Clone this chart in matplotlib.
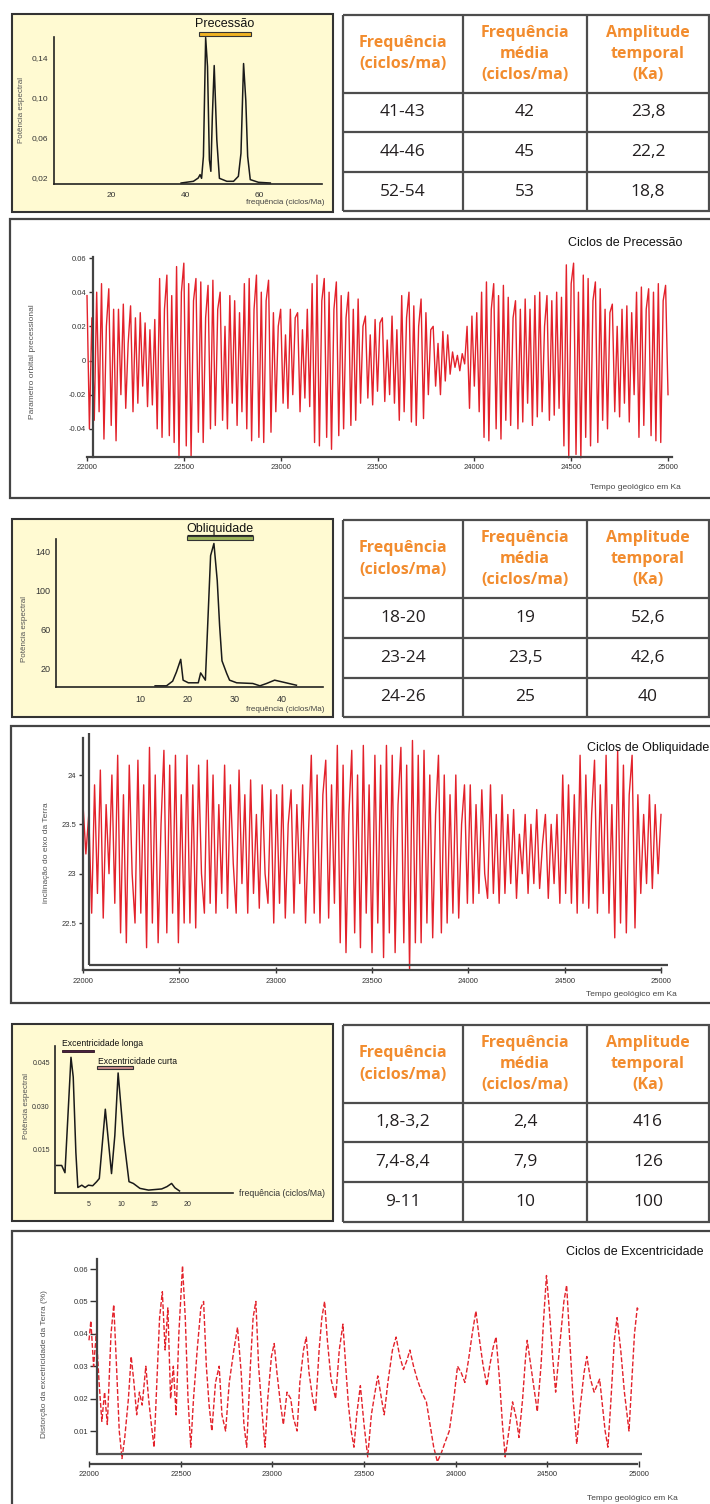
import matplotlib
matplotlib.use('Agg')
import matplotlib.pyplot as plt
from matplotlib.lines import Line2D
from matplotlib.patches import Rectangle
import numpy as np

# ---- tables ----
tab_head = ['Frequência\n(ciclos/ma)', 'Frequência\nmédia\n(ciclos/ma)', 'Amplitude\ntemporal\n(Ka)']
tab_prec = [['41-43', '42', '23,8'], ['44-46', '45', '22,2'], ['52-54', '53', '18,8']]
tab_obl = [['18-20', '19', '52,6'], ['23-24', '23,5', '42,6'], ['24-26', '25', '40']]
tab_exc = [['1,8-3,2', '2,4', '416'], ['7,4-8,4', '7,9', '126'], ['9-11', '10', '100']]

# ---- spectra ----
prec_f = [38.9, 42.2, 43.5, 44.0, 44.4, 44.9, 45.5, 46.0, 46.5, 46.9, 47.3, 47.8,
          48.5, 49.2, 51.2, 53.0, 54.3, 55.0, 55.7, 56.3, 56.8, 57.5, 59.7, 62.9]
prec_p = [0.0143, 0.016, 0.0193, 0.0227, 0.019, 0.041, 0.160, 0.131, 0.0376, 0.026, 0.081, 0.132,
          0.0576, 0.019, 0.016, 0.016, 0.021, 0.044, 0.134, 0.097, 0.041, 0.0177, 0.015, 0.0143]

obl_f = [13.2, 15.6, 16.9, 17.7, 18.6, 19.1, 20.2, 22.3, 22.8, 23.8, 24.9, 25.6,
         26.3, 26.8, 27.3, 28.3, 28.9, 30.4, 33.8, 35.3, 36.7, 38.4, 43.0]
obl_p = [2.4, 2.4, 7.2, 16.6, 29.5, 8.2, 5.5, 5.5, 15.6, 8.2, 135.6, 148,
         110, 64, 28, 15, 8.2, 5.5, 4.8, 2.4, 4.8, 8.2, 3]

exc_f = [0.2, 0.95, 1.45, 2.36, 2.7, 3.1, 3.4, 4.0, 4.5, 5.0, 5.65, 6.25, 6.65, 7.56,
         8.5, 9.0, 9.5, 10.3, 11.15, 11.8, 12.8, 14.1, 16.1, 16.9, 17.6, 18.1, 18.8]
exc_p = [0.0095, 0.0095, 0.007, 0.0468, 0.040, 0.014, 0.0019, 0.0027, 0.0019, 0.0027,
         0.0025, 0.0039, 0.005, 0.0289, 0.0067, 0.0198, 0.0414, 0.0198, 0.0039, 0.0033,
         0.0016, 0.001, 0.0014, 0.0022, 0.0033, 0.0018, 0.0007]

# ---- time series (ka) ----
# precession parameter, in units of 0.001, every 12.5 ka from 22000 to 25000
prec_series = [
    38, -40, 25, -35, 40,
    -30, 45, -46, 20, 42, -38, 30, -47,
    30, -20, 33, -28, 10, 32, -30, 25,
    -25, 28, -15, 22, -27, 18, -26, 24,
    -40, 48, -45, 30, 50, -44, 38, -48,
    55, -57, 40, 57, -50, 45, -56, 35,
    48, -42, 46, -48, 25, 44, -40, 47,
    -38, 30, 40, -35, 20, -40, 38, -25, 35, -38, 28, -30,
    45, -40, 48, -47, 30, 50, -45, 40, -48, 35, 47, -42,
    28, -30, 20, 30, -25, 15, -28, 30, -20, 25, 28, -30, 18, -22, 30, -27,
    45, -48, 50, -50, 35, 48, -45, 40, -52, 30, 46, -44,
    38, -40, 25, 40, -38, 30, -35, 36,
    -25, 20, 26, -22, 15, -26, 24, -18, 22, 25, -24, 12, -20, 26, -25, 18,
    -35, 38, -30, 25, 40, -36, 32, -38, 20, 36, -34, 28,
    -20, 18, 20, -15, 10, -20, 17, -12, 15, -8,
    5, -4, 3, -6, 4, -2,
    20, -28, 26, -15, 28, -30,
    40, -45, 46, -47, 30, 45, -40, 38, -46, 44,
    -35, 37, -38, 25, 35, -40, 30, -36, 36, -25, 30, -38,
    38, -33, 40, -30, 20, 38, -35, 35, -32, 40, -28, 37,
    -50, 56, -57, 45, 57, -55, 40, -57,
    50, -45, 48, -50, 35, 46, -48, 42,
    -35, 30, -40, 28, 33, -30, 20, -33, 30, -25, 32, -36, 28, -20,
    40, -45, 43, -38, 30, 42, -44, 40,
    -47, 45, -48, 35, 44, -20,
]

# obliquity (degrees), every 15 ka from 22000 to 25000
obl_series = [
    23.7, 23.2, 23.6,
    22.6, 23.9, 22.8, 24.05, 22.55, 23.7, 23.0, 24.0, 22.7,
    24.2, 22.4, 23.8, 22.3, 24.1, 23.0, 22.5, 24.15, 22.6, 23.9,
    22.25, 24.28, 22.5, 24.0, 22.3, 23.5, 24.25, 22.4, 24.1, 22.6, 24.2, 22.3, 23.8, 22.5,
    24.2, 22.5, 23.9, 22.45, 24.1, 23.0, 22.6, 24.15, 22.7,
    24.0, 22.6, 23.7, 22.8, 24.1, 22.65, 23.9, 23.1, 22.6, 24.05, 22.9, 23.8,
    22.6, 23.95, 22.8, 23.6, 22.65, 23.9, 23.0, 22.7, 23.85,
    22.5, 23.8, 22.7, 23.9, 22.55, 23.5, 23.85, 22.6, 23.7, 22.9, 23.9, 22.5, 23.4,
    24.2, 22.6, 24.0, 22.5, 23.8, 24.15, 22.55, 23.9, 22.7,
    24.3, 22.3, 24.1, 22.2, 23.6, 24.25, 22.4, 24.0, 22.25, 24.3, 22.6, 23.9, 22.2, 24.2, 22.5, 24.1,
    22.15, 24.3, 22.4, 24.2, 22.2, 23.7, 24.28, 22.3, 24.1,
    22.02, 24.35, 22.3, 24.2,
    22.3, 24.25, 22.5, 24.0, 22.35, 23.6, 24.2, 22.4,
    24.0, 22.5, 23.8, 22.6, 24.0, 22.55, 23.5, 23.9, 22.7,
    23.9, 22.7, 23.7, 22.8, 23.85, 23.0, 22.75, 23.9, 22.8, 23.6, 22.7, 23.8,
    22.8, 23.6, 22.9, 23.65, 22.75, 23.4, 23.0, 23.6, 22.8, 23.5, 22.9, 23.65, 22.85, 23.3, 23.6,
    22.75, 23.5, 22.9, 23.6,
    22.7, 24.0, 22.8, 23.9, 22.7, 23.8,
    22.6, 24.2, 22.7, 24.0, 22.65, 23.6, 24.15, 22.6, 23.9, 22.8, 24.2, 22.6, 23.7,
    22.35, 24.25, 22.5, 24.1, 22.4, 23.8, 24.2, 22.45,
    23.8, 22.8, 23.6, 22.9, 23.8, 22.85, 23.7, 23.0, 23.6,
]

# eccentricity: time (ka) and value (units of 0.001)
exc_t = [22000, 22010, 22025, 22040, 22055, 22070, 22085, 22100, 22120, 22135, 22150, 22165,
         22180, 22195, 22215, 22230, 22245, 22260, 22275, 22290, 22310, 22325, 22340, 22355,
         22370, 22385, 22400, 22415, 22430, 22445, 22460, 22475, 22490, 22510, 22525, 22540,
         22555, 22570, 22590, 22610, 22625, 22640, 22655, 22670, 22690, 22710, 22725, 22745,
         22765, 22790, 22810, 22830, 22845, 22860, 22880, 22895, 22910, 22925, 22945, 22960,
         22975, 22995, 23010, 23025, 23045, 23060, 23080, 23100, 23115, 23135, 23150, 23170,
         23185, 23200, 23220, 23235, 23255, 23270, 23285, 23300, 23320, 23345, 23365, 23385,
         23400, 23415, 23430, 23445, 23460, 23480, 23500, 23520, 23540, 23560, 23575, 23595,
         23610, 23630, 23655, 23675, 23695, 23715, 23735, 23750, 23770, 23790, 23815, 23840,
         23860, 23880, 23900, 23920, 23945, 23965, 23990, 24010, 24030, 24050, 24070, 24090,
         24110, 24130, 24150, 24170, 24185, 24205, 24220, 24240, 24255, 24270, 24290, 24310,
         24330, 24345, 24365, 24380, 24390, 24410, 24430, 24445, 24465, 24480, 24495, 24510,
         24530, 24545, 24565, 24590, 24605, 24620, 24640, 24660, 24680, 24700, 24715, 24735,
         24755, 24770, 24785, 24800, 24815, 24830, 24845, 24865, 24880, 24900, 24920, 24945,
         24960, 24975, 24990, 25000]
exc_v = [38, 44, 30, 40, 25, 13, 22, 12, 40, 49, 30, 10,
         1.5, 8, 20, 33, 25, 15, 22, 18, 30, 20, 12, 5,
         25, 45, 53, 35, 48, 20, 30, 15, 40, 61, 45, 20,
         5, 20, 35, 48, 50, 30, 18, 10, 25, 30, 15, 10,
         25, 35, 42, 28, 12, 5, 30, 45, 50, 30, 15, 5,
         20, 33, 37, 28, 18, 12, 22, 20, 14, 10, 25, 35,
         39, 28, 20, 16, 35, 45, 50, 38, 26, 20, 35, 43,
         30, 18, 10, 5, 15, 24, 12, 2, 15, 22, 27, 20,
         15, 25, 35, 39, 33, 29, 32, 35, 30, 26, 22, 19,
         12, 5, 0.5, 3, 7, 10, 20, 30, 28, 25, 32, 40,
         47, 38, 30, 24, 30, 36, 39, 25, 12, 2, 10, 19,
         14, 8, 20, 32, 38, 30, 22, 16, 30, 45, 58, 48,
         32, 22, 35, 50, 55, 40, 20, 6, 18, 28, 33, 26,
         22, 24, 26, 18, 10, 5, 18, 38, 45, 35, 22, 10,
         25, 40, 48, 47]

time_ticks = [22000, 22500, 23000, 23500, 24000, 24500, 25000]
time_labels = ['22000', '22500', '23000', '23500', '24000', '24500', '25000']

# ---------------------------------------------------------------
W, H = 710, 1504
fig = plt.figure(figsize=(W / 100, H / 100), dpi=100)
fig.patch.set_facecolor('white')
plt.rcParams['font.family'] = ['Liberation Sans', 'DejaVu Sans']

RED = '#e3222b'


def fx(x):
    return x / W


def fy(y):
    return 1 - y / H


def line(xs, ys, color='#444444', lw=1.5):
    fig.add_artist(Line2D([fx(x) for x in xs], [fy(y) for y in ys], color=color, lw=lw,
                          transform=fig.transFigure, solid_capstyle='butt'))


def box(x0, y0, x1, y1, face, edge='#333333', lw=1.5, z=-5):
    fig.add_artist(Rectangle((fx(x0), fy(y1)), (x1 - x0) / W, (y1 - y0) / H, facecolor=face,
                             edgecolor=edge, lw=lw, transform=fig.transFigure, zorder=z))


def text(x, y, s, **kw):
    kw.setdefault('va', 'center')
    fig.text(fx(x), fy(y), s, **kw)


def axes_px(l, t, r, b):
    ax = fig.add_axes([fx(l), fy(b), (r - l) / W, (b - t) / H])
    ax.set_facecolor('none')
    for s in ['top', 'right']:
        ax.spines[s].set_visible(False)
    return ax


def table(top, head_bot, rows_y, bottom, data):
    x_cols = [343, 463, 587, 709]
    centers = [403, 525, 648]
    for y in [top, head_bot] + rows_y + [bottom]:
        line([x_cols[0], 710], [y, y], color='#4d4d4d', lw=1.6)
    for x in x_cols:
        line([x, x], [top, bottom], color='#4d4d4d', lw=1.6)
    hc = (top + head_bot) / 2
    for cx, h in zip(centers, tab_head):
        text(cx, hc, h, ha='center', fontsize=11.5, fontweight='bold', color='#f28c2e',
             family=['Open Sans', 'DejaVu Sans'], linespacing=1.42)
    bounds = [head_bot] + rows_y + [bottom]
    for i, row in enumerate(data):
        yc = (bounds[i] + bounds[i + 1]) / 2
        for cx, v in zip(centers, row):
            text(cx, yc, v, ha='center', fontsize=12.5, color='#231f20',
                 family=['Open Sans', 'DejaVu Sans'])


def spectrum(l, t, r, b, xs, ys, xlim, ylim, xt, yt, ylabels, fs):
    ax = axes_px(l, t, r, b)
    ax.plot(xs, ys, color='#1a1a1a', lw=1.1, clip_on=False)
    ax.set_xlim(*xlim)
    ax.set_ylim(*ylim)
    ax.set_xticks(xt)
    ax.set_xticklabels([str(v) for v in xt])
    ax.set_yticks(yt)
    ax.set_yticklabels(ylabels)
    ax.tick_params(length=0, labelsize=fs, colors='#333333', pad=4)
    ax.tick_params(axis='x', pad=6)
    for s in ['left', 'bottom']:
        ax.spines[s].set_color('#222222')
        ax.spines[s].set_linewidth(1.2)
    return ax


# ================= Precession =================
box(12, 14, 333, 212, '#fffad2')
spectrum(54, 37, 322, 184, prec_f, prec_p, (4.7, 76.8), (0.0133, 0.1606),
         [20, 40, 60], [0.02, 0.06, 0.10, 0.14], ['0,02', '0,06', '0,10', '0,14'], 6)
text(22, 110, 'Potência espectral', rotation=90, ha='center', fontsize=5.8, color='#555555')
text(325, 203, 'frequência (ciclos/Ma)', ha='right', fontsize=5.8, color='#444444')
text(225, 24, 'Precessão', ha='center', fontsize=9, color='#111111')
box(199, 32, 251, 35.5, '#f0b323', edge='#333333', lw=0.8, z=3)
table(15, 92.7, [132.3, 172.3], 211, tab_prec)

box(10, 219, 760, 498, 'white', edge='#444444', lw=1.6)
ax = axes_px(87, 257, 672, 457)
t_prec = np.linspace(22000, 25000, len(prec_series))
ax.plot(t_prec, np.array(prec_series) * 0.001, color=RED, lw=1.0, clip_on=False)
ax.set_xlim(22000, 25020.6)
ax.set_ylim(-0.0565, 0.0606)
ax.spines['left'].set_position(('data', 22031))
ax.set_yticks([0.06, 0.04, 0.02, 0, -0.02, -0.04])
ax.set_yticklabels(['0.06', '0.04', '0.02', '0', '-0.02', '-0.04'])
ax.set_xticks(time_ticks)
ax.set_xticklabels(time_labels)
ax.tick_params(length=3, width=1, labelsize=5.5, colors='#333333', pad=2)
for s in ['left', 'bottom']:
    ax.spines[s].set_color('#444444')
    ax.spines[s].set_linewidth(1.6)
text(32, 362, 'Parametro orbital precessional', rotation=90, ha='center', fontsize=6, color='#555555')
text(682, 243, 'Ciclos de Precessão', ha='right', fontsize=9, color='#111111')
text(681, 487, 'Tempo geológico em Ka', ha='right', fontsize=6, color='#444444')

# ================= Obliquity =================
box(12, 519, 333, 717, '#fffad2')
spectrum(56, 539, 323, 687, obl_f, obl_p, (-7.7, 48.6), (1.2, 152.6),
         [10, 20, 30, 40], [20, 60, 100, 140], ['20', '60', '100', '140'], 6.5)
text(25, 629, 'Potência espectral', rotation=90, ha='center', fontsize=5.8, color='#555555')
text(325, 710, 'frequência (ciclos/Ma)', ha='right', fontsize=5.8, color='#444444')
text(220, 529, 'Obliquidade', ha='center', fontsize=9, color='#111111')
line([187, 253], [535, 535], color='#222222', lw=0.8)
box(187, 536, 253, 540, '#9cb55a', edge='#333333', lw=0.8, z=3)
table(520, 598, [637.7, 677.7], 717, tab_obl)

box(11, 726, 760, 1003, 'white', edge='#444444', lw=1.6)
ax = axes_px(83, 738, 661, 970)
t_obl = np.linspace(22000, 25000, len(obl_series))
ax.plot(t_obl, obl_series, color=RED, lw=1.0, clip_on=False)
ax.set_xlim(22000, 25000)
ax.set_ylim(22.024, 24.375)
ax.set_yticks([24, 23.5, 23, 22.5])
ax.set_yticklabels(['24', '23.5', '23', '22.5'])
ax.set_xticks(time_ticks)
ax.set_xticklabels(time_labels)
ax.tick_params(axis='y', length=3, width=1, labelsize=5.5, colors='#333333', pad=2)
ax.tick_params(axis='x', length=5, width=1, direction='inout', labelsize=5.5, colors='#333333', pad=3)
for s in ['left', 'bottom']:
    ax.spines[s].set_color('#444444')
    ax.spines[s].set_linewidth(1.6)
line([89, 89], [733, 965], color='#444444', lw=1.6)
line([89, 668], [965, 965], color='#444444', lw=1.6)
text(47, 853, 'inclinação do eixo da Terra', rotation=90, ha='center', fontsize=6, color='#555555')
text(709, 748, 'Ciclos de Obliquidade', ha='right', fontsize=9, color='#111111')
text(677, 995, 'Tempo geológico em Ka', ha='right', fontsize=6, color='#444444')

# ================= Eccentricity =================
box(12, 1024, 333, 1221, '#fffad2')
spectrum(55.4, 1046, 233, 1193, exc_f, exc_p, (0, 26.9), (0, 0.0507),
         [5, 10, 15, 20], [0.015, 0.030, 0.045], ['0.015', '0.030', '0.045'], 5)
text(27, 1106, 'Potência espectral', rotation=90, ha='center', fontsize=5.8, color='#555555')
text(239, 1194, 'frequência (ciclos/Ma)', ha='left', fontsize=6.3, color='#333333')
text(62, 1044, 'Excentricidade longa', ha='left', fontsize=6.2, color='#111111')
box(62, 1050, 94, 1052, '#4a2040', edge='#2a1020', lw=0.6, z=3)
text(98, 1061.5, 'Excentricidade curta', ha='left', fontsize=6.2, color='#111111')
box(97, 1066, 133, 1068.5, '#c98a8a', edge='#333333', lw=0.8, z=3)
table(1025, 1103, [1142, 1182], 1221.7, tab_exc)

box(12, 1231, 760, 1540, 'white', edge='#444444', lw=1.6)
ax = axes_px(89, 1259, 642, 1454)
ax.plot(exc_t, np.array(exc_v) * 0.001, color=RED, lw=1.0, dashes=(3.5, 1.5), clip_on=False)
ax.set_xlim(22000, 25016)
ax.set_ylim(0.0029, 0.0631)
ax.spines['left'].set_position(('data', 22041))
ax.spines['bottom'].set_position(('outward', 7))
ax.spines['bottom'].set_bounds(22011, 24989)
ax.set_yticks([0.06, 0.05, 0.04, 0.03, 0.02, 0.01])
ax.set_yticklabels(['0.06', '0.05', '0.04', '0.03', '0.02', '0.01'])
ax.set_xticks(time_ticks)
ax.set_xticklabels(time_labels)
ax.tick_params(axis='y', length=5, width=1, labelsize=5.5, colors='#333333', pad=1)
ax.tick_params(axis='x', length=4, width=1, direction='inout', labelsize=5.5, colors='#333333', pad=3)
for s in ['left', 'bottom']:
    ax.spines[s].set_color('#444444')
    ax.spines[s].set_linewidth(1.6)
line([96.5, 642], [1454, 1454], color='#555555', lw=1.6)
text(45, 1364, 'Distorção da excetricidade da Terra (%)', rotation=90, ha='center', fontsize=6,
     color='#555555')
text(704, 1252, 'Ciclos de Excentricidade', ha='right', fontsize=9, color='#111111')
text(678, 1499, 'Tempo geológico em Ka', ha='right', fontsize=6, color='#444444')

fig.savefig('out.png', dpi=100, facecolor='white')
